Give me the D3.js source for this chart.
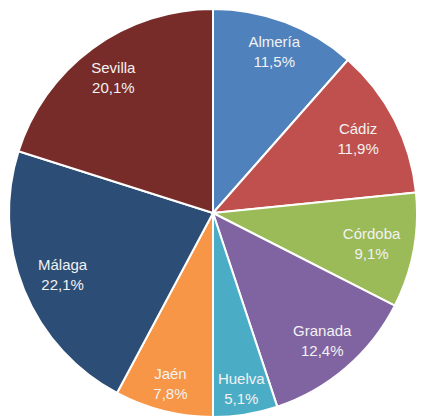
<!DOCTYPE html>
<html>
<head>
<meta charset="utf-8">
<script src="https://cdn.jsdelivr.net/npm/d3@7"></script>
<style>
  html, body { margin: 0; padding: 0; background: #fff; }
  svg { display: block; }
</style>
</head>
<body>
<div id="chart"></div>
<script>
// provinces, clockwise from 12 o'clock
const provinces = ["Almería", "Cádiz", "Córdoba", "Granada", "Huelva", "Jaén", "Málaga", "Sevilla"];
const shares = [11.5, 11.9, 9.1, 12.4, 5.1, 7.8, 22.1, 20.1];
const sliceColors = ["#4f81bd", "#c0504d", "#9bbb59", "#8064a2", "#4bacc6", "#f79646", "#2c4d75", "#772c2a"];

const width = 421, height = 417;
const cx = 213, cy = 213, radius = 204;

const data = provinces.map((p, i) => ({ name: p, value: shares[i] }));

const svg = d3.select("#chart").append("svg")
    .attr("width", width)
    .attr("height", height);

const g = svg.append("g").attr("transform", `translate(${cx},${cy})`);

const pie = d3.pie().sort(null).value(d => d.value);
const arcs = pie(data);

const color = d3.scaleOrdinal().domain(provinces).range(sliceColors);

const arc = d3.arc().innerRadius(0).outerRadius(radius);

// labels sit a bit further out near top/bottom, closer in at the sides (text box is wide)
function labelPos(d) {
    const a = (d.startAngle + d.endAngle) / 2;
    const r = 180 - 19 * Math.abs(Math.sin(a));
    return [r * Math.sin(a), -r * Math.cos(a)];
}

g.selectAll("path.slice")
    .data(arcs)
    .join("path")
    .attr("class", "slice")
    .attr("d", arc)
    .attr("fill", d => color(d.data.name))
    .attr("stroke", "#fff")
    .attr("stroke-width", 2)
    .attr("stroke-linejoin", "round");

const fmt = v => v.toFixed(1).replace(".", ",") + "%";

const labels = g.selectAll("text.lbl")
    .data(arcs)
    .join("text")
    .attr("class", "lbl")
    .attr("transform", d => `translate(${labelPos(d)})`)
    .attr("text-anchor", "middle")
    .attr("font-family", "'Liberation Sans', Arial, sans-serif")
    .attr("font-size", 15)
    .attr("fill", "#f2f2f2");

labels.append("tspan").attr("x", 0).attr("y", -4).text(d => d.data.name);
labels.append("tspan").attr("x", 0).attr("y", 16).text(d => fmt(d.data.value));
</script>
</body>
</html>
